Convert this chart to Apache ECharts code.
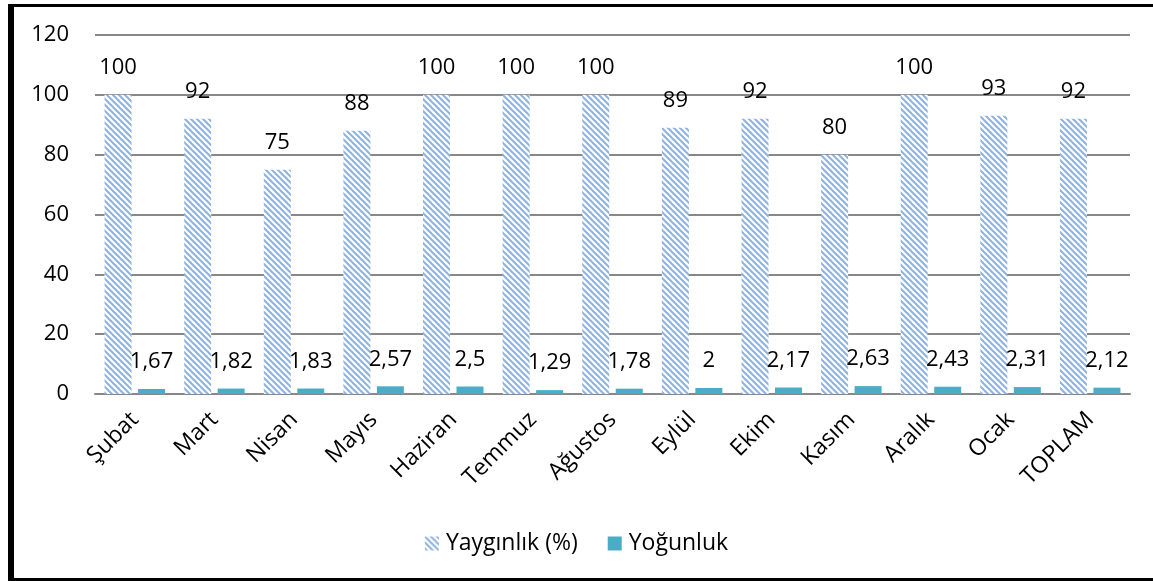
<!DOCTYPE html>
<html>
<head>
<meta charset="utf-8">
<script src="https://cdn.jsdelivr.net/npm/echarts@6/dist/echarts.min.js"></script>
<style>
html,body{margin:0;padding:0;background:#fff;}
#chart{width:1153px;height:581px;}
</style>
</head>
<body>
<div id="chart"></div>
<script>
const categories = ['Şubat','Mart','Nisan','Mayıs','Haziran','Temmuz','Ağustos','Eylül','Ekim','Kasım','Aralık','Ocak','TOPLAM'];
const yayginlik = [100, 92, 75, 88, 100, 100, 100, 89, 92, 80, 100, 93, 92];
const yogunluk = [1.67, 1.82, 1.83, 2.57, 2.5, 1.29, 1.78, 2, 2.17, 2.63, 2.43, 2.31, 2.12];
const seriesNames = ['Yaygınlık (%)', 'Yoğunluk'];

function hatch() {
  const s = 6;
  const c = document.createElement('canvas');
  c.width = s; c.height = s;
  const g = c.getContext('2d');
  g.fillStyle = '#ffffff';
  g.fillRect(0, 0, s, s);
  g.strokeStyle = '#8cb2e2';
  g.lineWidth = 2;
  for (const x0 of [-s, 0, s]) {
    g.beginPath();
    g.moveTo(x0 - 1, -1);
    g.lineTo(x0 + s + 1, s + 1);
    g.stroke();
  }
  return c;
}

const FONT = 'Open Sans';
const fmt = v => String(v.value).replace('.', ',');
const chart = echarts.init(document.getElementById('chart'), null, {renderer: 'canvas'});
chart.setOption({
  animation: false,
  textStyle: {fontFamily: FONT},
  graphic: [
    {type: 'rect', shape: {x: 8, y: 4, width: 6, height: 577}, style: {fill: '#000'}, silent: true},
    {type: 'rect', shape: {x: 8, y: 4, width: 1145, height: 3}, style: {fill: '#000'}, silent: true},
    {type: 'rect', shape: {x: 8, y: 578, width: 1145, height: 3}, style: {fill: '#000'}, silent: true}
  ],
  grid: {left: 95, right: 23, top: 35, bottom: 187, containLabel: false},
  legend: {
    top: 527,
    left: 'center',
    itemWidth: 14,
    itemHeight: 14,
    itemGap: 30,
    textStyle: {fontFamily: FONT, fontSize: 23, color: '#000', padding: [0, 0, 0, 2]},
    data: seriesNames.map(n => ({name: n, icon: 'rect'}))
  },
  xAxis: {
    type: 'category',
    data: categories,
    axisLine: {lineStyle: {color: '#888', width: 2}},
    axisTick: {show: false},
    axisLabel: {rotate: 45, fontSize: 23, color: '#000', margin: 22, interval: 0, fontFamily: FONT}
  },
  yAxis: {
    type: 'value',
    min: 0, max: 120, interval: 20,
    axisLine: {show: false},
    axisTick: {show: false},
    splitLine: {lineStyle: {color: '#888', width: 2}},
    axisLabel: {fontSize: 22, color: '#000', margin: 26, fontFamily: FONT}
  },
  series: [
    {
      name: seriesNames[0], type: 'bar', data: yayginlik,
      barWidth: 27, barGap: '24%',
      itemStyle: {color: {image: hatch(), repeat: 'repeat'}},
      label: {show: true, position: 'top', distance: 16, fontSize: 22, color: '#000', fontFamily: FONT, formatter: fmt}
    },
    {
      name: seriesNames[1], type: 'bar', data: yogunluk,
      barWidth: 27,
      itemStyle: {color: '#4bacc6'},
      label: {show: true, position: 'top', distance: 16, fontSize: 22, color: '#000', fontFamily: FONT, formatter: fmt}
    }
  ]
});
</script>
</body>
</html>
